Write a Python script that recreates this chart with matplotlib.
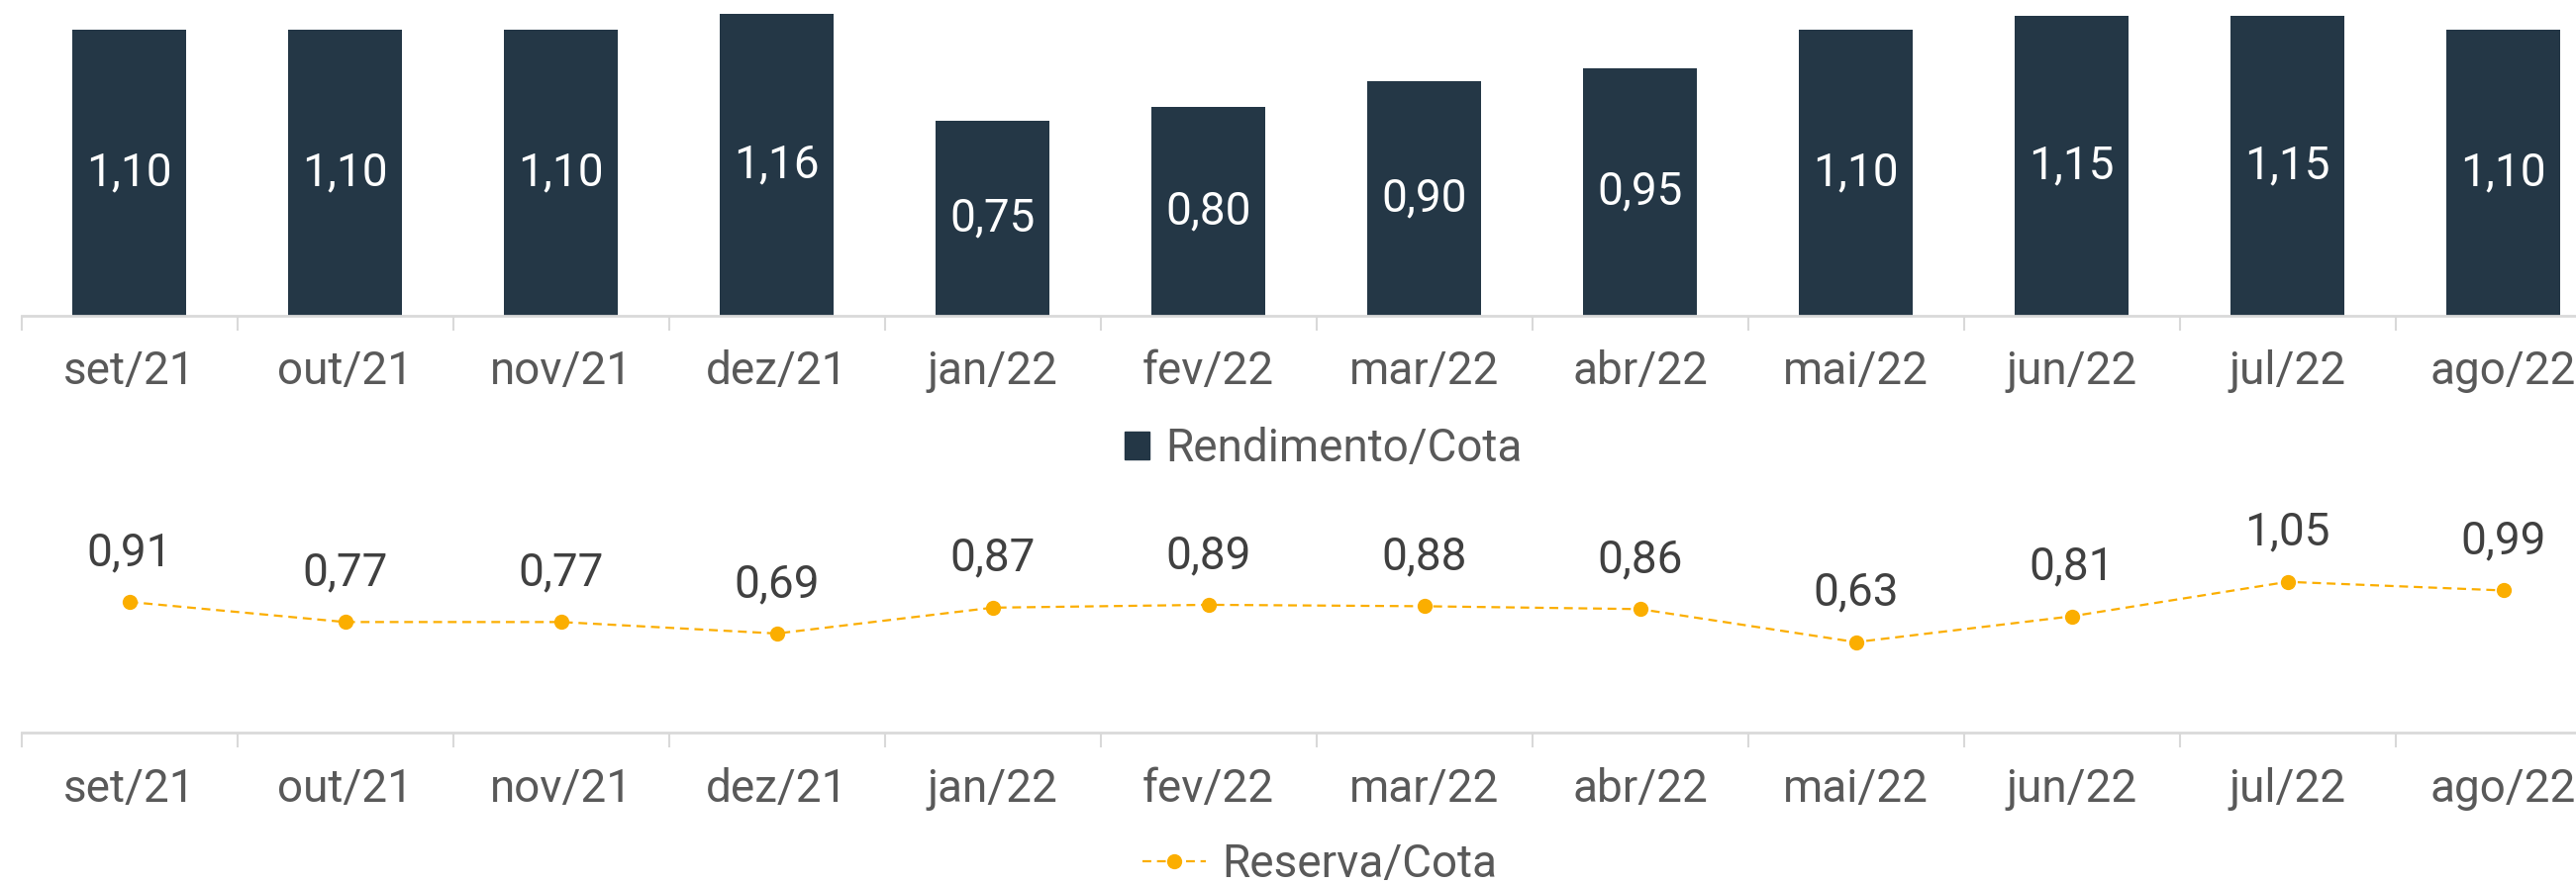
"""Rendimento/Cota e Reserva/Cota — barras e linha mensais."""
import numpy as np
import matplotlib
matplotlib.use("Agg")
import matplotlib.pyplot as plt
from matplotlib.lines import Line2D
from matplotlib.patches import Patch

# Dados
meses = ["set/21", "out/21", "nov/21", "dez/21", "jan/22", "fev/22",
         "mar/22", "abr/22", "mai/22", "jun/22", "jul/22", "ago/22"]
rendimento = [1.10, 1.10, 1.10, 1.16, 0.75, 0.80, 0.90, 0.95, 1.10, 1.15, 1.15, 1.10]
reserva = [0.91, 0.77, 0.77, 0.69, 0.87, 0.89, 0.88, 0.86, 0.63, 0.81, 1.05, 0.99]

AZUL = "#243746"
LARANJA = "#FBAE00"
CINZA_TXT = "#595959"
CINZA_LINHA = "#D9D9D9"
FS = 33

plt.rcParams["font.family"] = ["Roboto", "DejaVu Sans"]
plt.rcParams["font.weight"] = "normal"

W, H = 2602, 894
fig = plt.figure(figsize=(W / 100, H / 100), dpi=100)

# escala horizontal: 218 px por categoria, primeira borda em x=21.6 px
px_cat = 218.0
x0 = -0.5 - 21.6 / px_cat
x1 = x0 + W / px_cat
x = np.arange(len(meses))


def formata_eixo(ax):
    ax.set_xlim(x0, x1)
    ax.patch.set_visible(False)
    for s in ["top", "right", "left"]:
        ax.spines[s].set_visible(False)
    ax.spines["bottom"].set_color(CINZA_LINHA)
    ax.spines["bottom"].set_linewidth(2)
    ax.spines["bottom"].set_bounds(-0.5, 11.5)
    ax.set_yticks([])
    ax.set_xticks(x)
    ax.set_xticklabels(meses, fontsize=FS, color=CINZA_TXT)
    ax.tick_params(axis="x", which="major", length=0, pad=25)
    ax.set_xticks(np.arange(-0.5, 11.5, 1.0), minor=True)
    ax.tick_params(axis="x", which="minor", length=11, width=1.5, color=CINZA_LINHA)


# Barras (topo)
base_top = 318.6
ax1 = fig.add_axes([0, 1 - base_top / H, 1, base_top / H])
bars = ax1.bar(x, rendimento, width=0.53, color=AZUL)
ax1.set_ylim(0, base_top / 262.7)
formata_eixo(ax1)
ax1.bar_label(bars, labels=[f"{v:.2f}".replace(".", ",") for v in rendimento],
              label_type="center", color="white", fontsize=FS)

# Linha (baixo)
base_bot = 740.0
alt_bot = 280.0
ax2 = fig.add_axes([0, 1 - base_bot / H, 1, alt_bot / H])
ax2.plot(x, reserva, color=LARANJA, linewidth=1.6, linestyle=(0, (4, 2.6)),
         marker="o", markersize=11, markeredgewidth=0)
ax2.set_ylim(0, alt_bot / 145.0)
formata_eixo(ax2)
for xi, v in zip(x, reserva):
    ax2.annotate(f"{v:.2f}".replace(".", ","), (xi, v), xytext=(0, 36),
                 textcoords="offset points", ha="center", va="center",
                 fontsize=FS, color="#404040")

# Legendas
fig.legend(handles=[Patch(color=AZUL, label="Rendimento/Cota")],
           loc="center", bbox_to_anchor=(1337 / W, 1 - 453 / H),
           frameon=False, fontsize=FS, labelcolor=CINZA_TXT,
           handlelength=0.55, handleheight=0.55, handletextpad=0.35)
fig.legend(handles=[Line2D([], [], color=LARANJA, linewidth=1.6,
                           linestyle=(0, (4, 2.6)), marker="o", markersize=11,
                           markeredgewidth=0, label="Reserva/Cota")],
           loc="center", bbox_to_anchor=(1333 / W, 1 - 873 / H),
           frameon=False, fontsize=FS, labelcolor=CINZA_TXT,
           handlelength=1.4, handletextpad=0.35)

fig.savefig("out.png", dpi=100, facecolor="white")
